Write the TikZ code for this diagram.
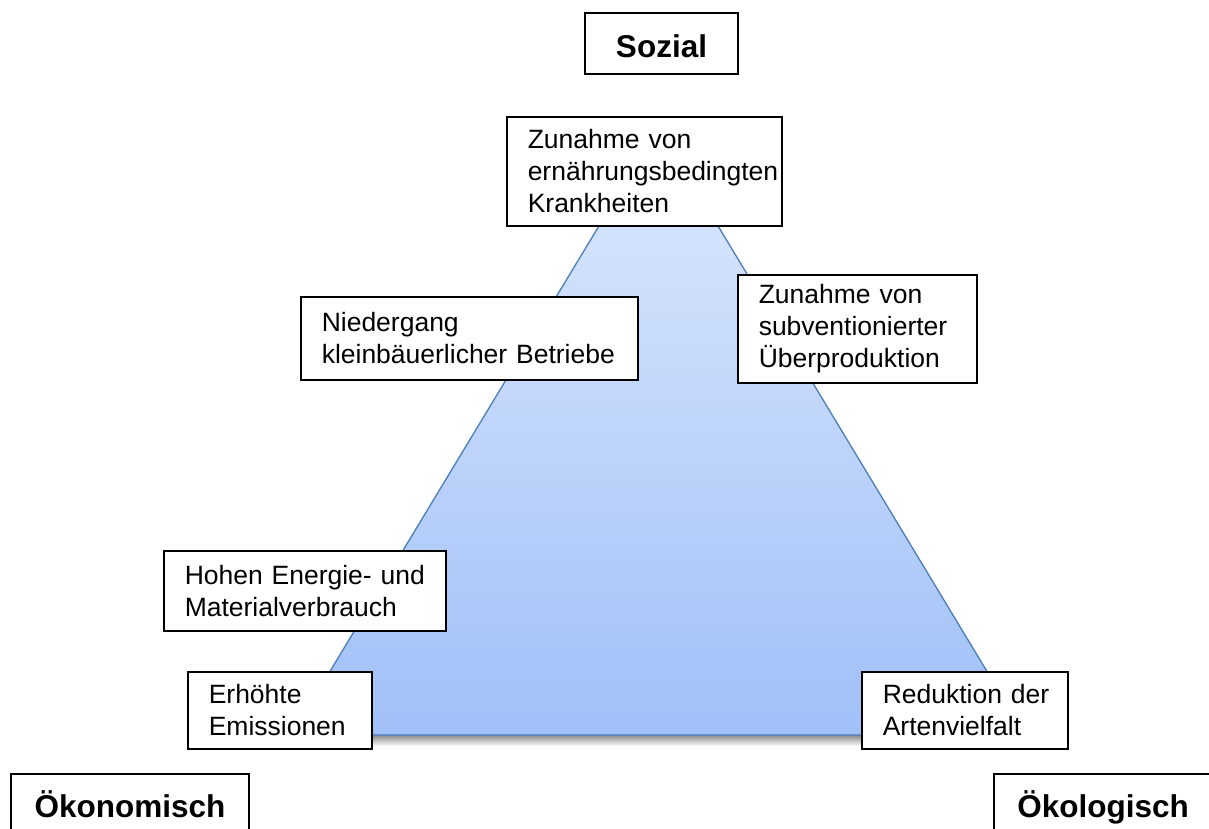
\documentclass[tikz,border=0pt]{standalone}
\usepackage{fontspec}
\setmainfont{Liberation Sans}
\definecolor{triTop}{RGB}{222,233,253}
\definecolor{triBot}{RGB}{160,192,248}
\definecolor{triEdge}{RGB}{74,126,187}
\begin{document}
\begin{tikzpicture}[x=1pt,y=-1pt,
  box/.style={draw=black, line width=1.5pt, fill=white, align=left, inner xsep=21pt, inner ysep=0pt, anchor=north west, font=\fontsize{26.5}{32}\selectfont},
  head/.style={draw=black, line width=2pt, fill=white, anchor=north west, inner sep=0pt, text height=28pt, text depth=0pt, font=\fontsize{31.5}{38}\selectfont\bfseries}]
\clip (0,0) rectangle (1209,828);
\fill[white] (0,0) rectangle (1209,828);
% shadow under base
\shade[top color=black!55, bottom color=white] (293,733) rectangle (1024,746);
% triangle
\coordinate (apex) at (658.5,127.4);
\coordinate (bl) at (291.5,735);
\coordinate (br) at (1025.4,735);
\shade[top color=triTop, bottom color=triBot] (apex) -- (bl) -- (br) -- cycle;
\draw[triEdge, line width=1.3pt, line join=round] (apex) -- (bl) -- (br) -- cycle;
% boxes
\node[box, text width=233pt, minimum height=109pt] (krank) at (506,116)
  {\mbox{Zunahme von}\\ernährungsbedingten\\Krankheiten};
\node[box, text width=295pt, minimum height=83pt] (nieder) at (300,296)
  {Niedergang\\\mbox{kleinbäuerlicher Betriebe}};
\node[box, text width=197pt, minimum height=108pt] (ueber) at (737,274)
  {\mbox{Zunahme von}\\subventionierter\\Überproduktion};
\node[box, text width=240pt, minimum height=80pt] (energie) at (163,550)
  {\mbox{Hohen Energie- und}\\Materialverbrauch};
\node[box, text width=142pt, minimum height=77pt] (emiss) at (187,671)
  {Erhöhte\\Emissionen};
\node[box, text width=164pt, minimum height=77pt] (arten) at (861,671)
  {\mbox{Reduktion der}\\Artenvielfalt};
% headings
\node[head, minimum width=153pt, minimum height=61pt] (sozial) at (584,12) {Sozial};
\node[head, minimum width=238pt, minimum height=58pt] (oekon) at (10,773) {Ökonomisch};
\node[head, minimum width=218pt, minimum height=58pt] (oekol) at (993,773) {Ökologisch};
\end{tikzpicture}
\end{document}
